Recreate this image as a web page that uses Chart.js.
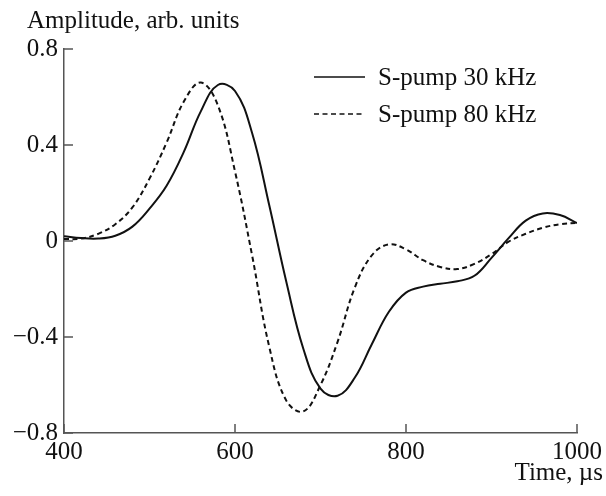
<!DOCTYPE html>
<html>
<head>
<meta charset="utf-8">
<script src="https://cdn.jsdelivr.net/npm/chart.js@4.4.1/dist/chart.umd.min.js"></script>
<style>
  html, body { margin: 0; padding: 0; background: #fff; }
  #wrap { width: 606px; height: 496px; }
</style>
</head>
<body>
<div id="wrap"><canvas id="chart"></canvas></div>
<script>
// Amplitude vs time, two pump frequencies
const timeUs = [400, 420, 440, 460, 480, 500, 520, 540, 560, 580, 600, 620, 640, 660, 680, 700,
                720, 740, 760, 780, 800, 820, 840, 860, 880, 900, 920, 940, 960, 980, 1000];
const pump30 = [0.02, 0.012, 0.01, 0.022, 0.06, 0.135, 0.23, 0.37, 0.54, 0.65, 0.625, 0.45, 0.15, -0.17, -0.45, -0.615,
                -0.645, -0.57, -0.43, -0.295, -0.215, -0.19, -0.178, -0.168, -0.145, -0.07, 0.012, 0.085, 0.115, 0.108, 0.075];
const pump80 = [0.008, 0.01, 0.03, 0.07, 0.14, 0.26, 0.41, 0.58, 0.66, 0.565, 0.29, -0.06, -0.44, -0.665, -0.71, -0.6,
                -0.42, -0.195, -0.06, -0.014, -0.035, -0.08, -0.108, -0.117, -0.095, -0.055, -0.003, 0.03, 0.055, 0.07, 0.075];
const seriesNames = ['S-pump 30 kHz', 'S-pump 80 kHz'];

const xTickValues = [400, 600, 800, 1000];
const xTickLabels = ['400', '600', '800', '1000'];
const yTickValues = [-0.8, -0.4, 0, 0.4, 0.8];
const yTickLabels = ['\u22120.8', '\u22120.4', '0', '0.4', '0.8'];

const FONT = '"Liberation Serif", "Times New Roman", serif';
const AXIS_COLOR = '#555';
const INK = '#111';

const toPoints = ys => ys.map((y, i) => ({ x: timeUs[i], y }));

// inward tick marks, axis titles and the in-plot legend
const decorations = {
  id: 'decorations',
  afterDraw(chart) {
    const { ctx, chartArea: a, scales } = chart;
    ctx.save();
    ctx.strokeStyle = AXIS_COLOR;
    ctx.lineWidth = 1.5;
    ctx.beginPath();
    scales.x.ticks.forEach(t => {
      const px = scales.x.getPixelForValue(t.value);
      ctx.moveTo(px, a.bottom);
      ctx.lineTo(px, a.bottom - 9);
    });
    scales.y.ticks.forEach(t => {
      const py = scales.y.getPixelForValue(t.value);
      ctx.moveTo(a.left, py);
      ctx.lineTo(a.left + 9, py);
    });
    ctx.stroke();

    ctx.fillStyle = INK;
    ctx.font = '25px ' + FONT;
    ctx.textBaseline = 'alphabetic';
    ctx.textAlign = 'left';
    ctx.fillText('Amplitude, arb. units', 27, 28);
    ctx.textAlign = 'right';
    ctx.fillText('Time, \u00b5s', 603, 480);

    // legend
    const rows = [{ y: 77, base: 84.5 }, { y: 114, base: 121.5 }];
    ctx.textAlign = 'left';
    chart.data.datasets.forEach((ds, i) => {
      ctx.strokeStyle = ds.borderColor;
      ctx.lineWidth = 1.6;
      ctx.setLineDash(ds.borderDash || []);
      ctx.beginPath();
      ctx.moveTo(314, rows[i].y);
      ctx.lineTo(365, rows[i].y);
      ctx.stroke();
      ctx.fillText(ds.label, 378, rows[i].base);
    });
    ctx.restore();
  }
};

new Chart(document.getElementById('chart'), {
  type: 'line',
  data: {
    datasets: [
      {
        label: seriesNames[0],
        data: toPoints(pump30),
        borderColor: INK,
        borderWidth: 2,
        pointRadius: 0,
        tension: 0.4,
        fill: false
      },
      {
        label: seriesNames[1],
        data: toPoints(pump80),
        borderColor: INK,
        borderWidth: 2,
        borderDash: [5, 3.5],
        pointRadius: 0,
        tension: 0.4,
        fill: false
      }
    ]
  },
  options: {
    responsive: true,
    maintainAspectRatio: false,
    animation: false,
    layout: { padding: { left: 0, top: 49, right: 28, bottom: 0 } },
    plugins: {
      legend: { display: false },
      tooltip: { enabled: false }
    },
    scales: {
      x: {
        type: 'linear',
        min: 400,
        max: 1000,
        afterFit(s) { s.height = 63; },
        afterBuildTicks(s) { s.ticks = xTickValues.map(v => ({ value: v })); },
        grid: { display: false, drawTicks: false },
        border: { display: true, color: AXIS_COLOR, width: 1.5 },
        ticks: {
          padding: 4,
          color: INK,
          font: { family: FONT, size: 25 },
          maxRotation: 0,
          callback: (v, i) => xTickLabels[i]
        }
      },
      y: {
        type: 'linear',
        min: -0.8,
        max: 0.8,
        afterFit(s) { s.width = 64; },
        afterBuildTicks(s) { s.ticks = yTickValues.map(v => ({ value: v })); },
        grid: { display: false, drawTicks: false },
        border: { display: true, color: AXIS_COLOR, width: 1.5 },
        ticks: {
          padding: 6,
          color: INK,
          font: { family: FONT, size: 25 },
          callback: (v, i) => yTickLabels[i]
        }
      }
    }
  },
  plugins: [decorations]
});
</script>
</body>
</html>
